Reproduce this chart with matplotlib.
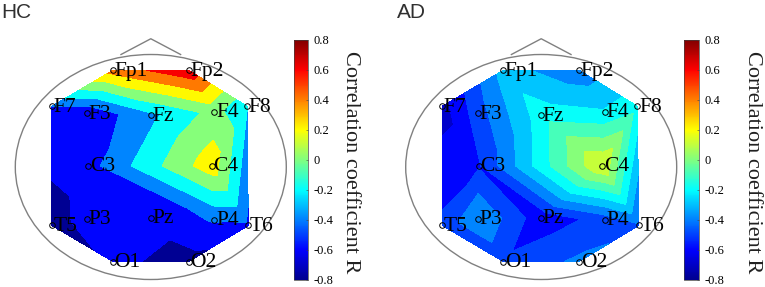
# Imports
from matplotlib import pyplot as plt
from matplotlib.patches import Ellipse
from matplotlib.cm import ScalarMappable
from matplotlib.colors import Normalize, LinearSegmentedColormap
import matplotlib.tri as mtri

# Electrodes, in head units (head radius = 1)
electrodes = ["Fp1", "Fp2", "F7", "F3", "Fz", "F4", "F8", "C3", "C4", "T5", "P3", "Pz", "P4", "T6", "O1", "O2"]
electrode_x = [-0.28, 0.28, -0.73, -0.47, 0.0, 0.47, 0.71, -0.46, 0.45, -0.73, -0.47, 0.0, 0.47, 0.72, -0.28, 0.28]
electrode_y = [0.86, 0.86, 0.54, 0.48, 0.46, 0.49, 0.54, 0.01, 0.01, -0.52, -0.46, -0.45, -0.47, -0.52, -0.84, -0.84]

# Which electrodes the surface is interpolated between
common_mesh = [
	(0, 1, 4), (0, 4, 3), (1, 5, 4), (1, 6, 5), (0, 3, 2),
	(2, 3, 7), (3, 4, 7), (4, 7, 8), (4, 5, 8), (5, 6, 8),
	(2, 7, 9), (6, 13, 8), (8, 12, 13),
	(7, 10, 11), (7, 9, 10), (9, 10, 14), (10, 11, 14),
	(11, 14, 15), (11, 12, 15), (12, 13, 15),
]
hc_mesh = common_mesh + [(7, 8, 12), (7, 11, 12)]
ad_mesh = common_mesh + [(7, 8, 11), (8, 11, 12)]

# Correlation per electrode
hc_values = [0.48, 0.75, -0.4, -0.55, -0.25, 0.07, -0.19, -0.475, 0.32, -0.72, -0.5, -0.52, -0.38, -0.44, -0.55, -0.68]
ad_values = [-0.26, -0.37, -0.64, -0.45, -0.145, -0.19, -0.14, -0.51, 0.2, -0.48, -0.3, -0.565, -0.46, -0.42, -0.48, -0.38]

# Contour levels
hc_levels = [-0.8, -0.6, -0.4, -0.2, 0.0, 0.2, 0.4, 0.6, 0.8]
ad_levels = [-0.8, -0.7, -0.6, -0.5, -0.4, -0.3, -0.2, -0.1, 0.0, 0.1, 0.2, 0.3]

bar_ticks = [-0.8, -0.6, -0.4, -0.2, 0, 0.2, 0.4, 0.6, 0.8]
bar_labels = ["-0.8", "-0.6", "-0.4", "-0.2", "0", "0.2", "0.4", "0.6", "0.8"]

# MATLAB jet, which has a purer cyan than the matplotlib one
jet_colors = ["#00008f", "#0000ff", "#00ffff", "#ffff00", "#ff0000", "#800000"]
jet_stops = [0.0, 0.125, 0.375, 0.625, 0.875, 1.0]

WIDTH = 765
HEIGHT = 287
GRAY = "#808080"
SERIF = "Liberation Serif"
norm = Normalize(-0.8, 0.8)
cmap = LinearSegmentedColormap.from_list("matlab_jet", list(zip(jet_stops, jet_colors)), N = 256)


# Axes placed in pixel coordinates (y from the top)
def pixel_axes(fig, left, top, right, bottom):
	return fig.add_axes([left / WIDTH, 1 - bottom / HEIGHT, (right - left) / WIDTH, (bottom - top) / HEIGHT])


# Draw one head with its colorbar
def draw_head(fig, center_x, values, levels, mesh, bar_left, label_x, title, title_x):
	rx, ry = 135.5, 112.5
	center_y = 167
	ax = pixel_axes(fig, center_x - 1.1 * rx, center_y - 1.2 * ry, center_x + 1.1 * rx, center_y + 1.1 * ry)
	ax.set_xlim(-1.1, 1.1)
	ax.set_ylim(-1.1, 1.2)
	ax.axis("off")

	# Each band takes the colour just above its lower level, like MATLAB contourf
	tri = mtri.Triangulation(electrode_x, electrode_y, mesh)
	colors = [cmap(norm(level + 0.01)) for level in levels[:-1]]
	ax.tricontourf(tri, values, levels = levels, colors = colors)

	# Head outline and nose
	ax.add_patch(Ellipse((0, 0), 2, 2, fill = False, edgecolor = GRAY, linewidth = 1.0))
	ax.plot([-0.22, 0, 0.22], [1.0, 1.14, 1.0], color = GRAY, linewidth = 1.0, clip_on = False)

	# Electrodes
	ax.plot(electrode_x, electrode_y, "o", markersize = 4, markerfacecolor = "none", markeredgecolor = "black", markeredgewidth = 0.7)
	for name, x, y in zip(electrodes, electrode_x, electrode_y):
		ax.text(x + 0.012, y - 0.01, name, family = SERIF, fontsize = 15.5, ha = "left", va = "center", color = "black")

	# Colorbar
	cax = pixel_axes(fig, bar_left, 39.5, bar_left + 14.6, 280)
	bar = fig.colorbar(ScalarMappable(norm = norm, cmap = cmap), cax = cax)
	bar.set_ticks(bar_ticks)
	bar.set_ticklabels(bar_labels)
	bar.outline.set_linewidth(0.5)
	bar.outline.set_edgecolor("#404040")
	cax.tick_params(direction = "in", length = 1.5, width = 0.4, pad = 4, labelsize = 9, color = "#404040")
	for label in cax.get_yticklabels():
		label.set_family(SERIF)
	fig.text(label_x / WIDTH, 1 - 162 / HEIGHT, "Correlation coefficient R", family = SERIF, fontsize = 16, rotation = 270, ha = "center", va = "center", color = "#202020")

	# Panel title
	fig.text(title_x / WIDTH, 1 - 12 / HEIGHT, title, family = "Liberation Sans", fontsize = 15, ha = "left", va = "center", color = "#303030")


# Main
fig = plt.figure(figsize = (WIDTH / 100, HEIGHT / 100), dpi = 100)
draw_head(fig, 150.8, hc_values, hc_levels, hc_mesh, 293.7, 350, "HC", 1)
draw_head(fig, 541.2, ad_values, ad_levels, ad_mesh, 684, 753, "AD", 397)
fig.savefig("out.png", dpi = 100)
